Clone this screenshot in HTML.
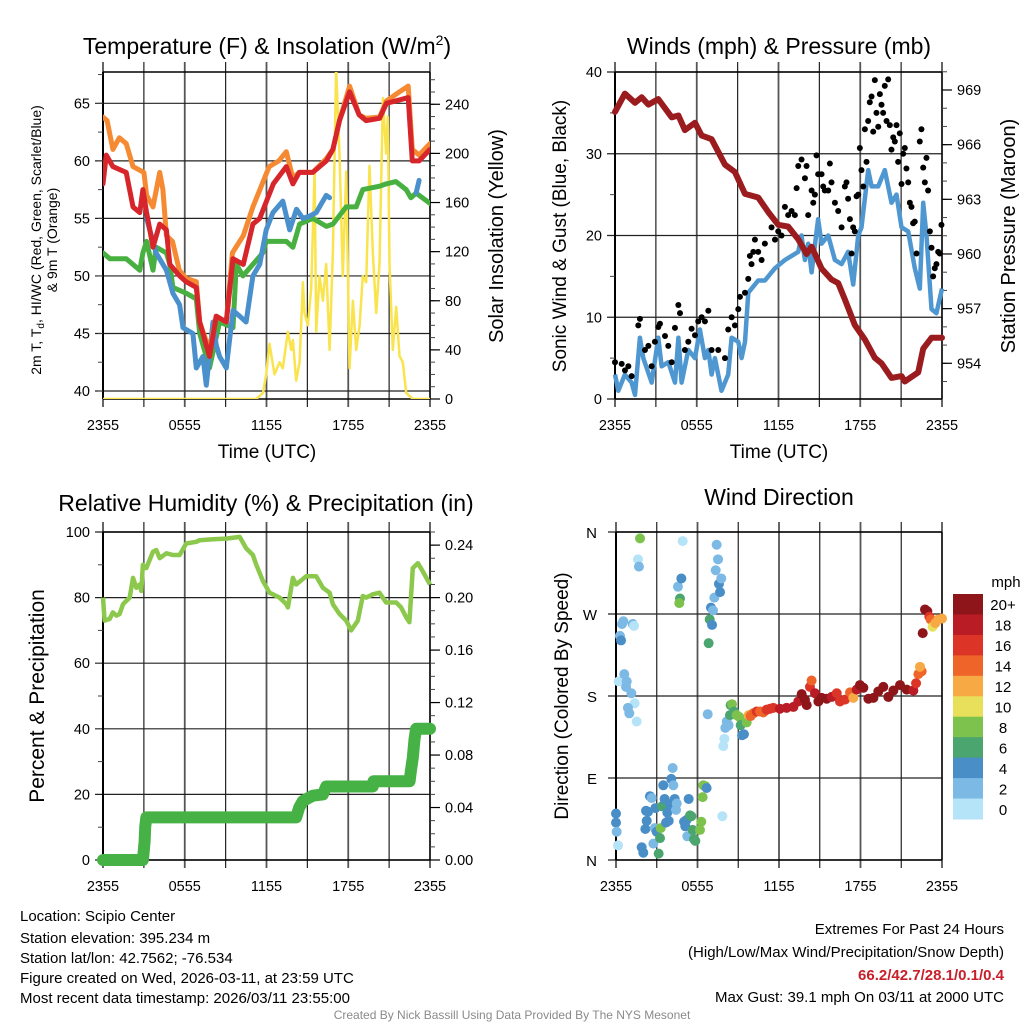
<!DOCTYPE html>
<html><head><meta charset="utf-8"><style>
html,body{margin:0;padding:0;background:#fff}
svg{display:block;font-family:"Liberation Sans",Arial,sans-serif}
</style></head><body>
<svg id="fig" width="1024" height="1024" viewBox="0 0 1024 1024" xmlns="http://www.w3.org/2000/svg">
<rect width="1024" height="1024" fill="#fff"/>
<g id="g1"></g>
<g id="g2"></g>
<g id="g3"></g>
<g id="g4"></g>
<text x="267" y="54" font-size="23" text-anchor="middle">Temperature (F) &amp; Insolation (W/m<tspan font-size="14" dy="-9">2</tspan><tspan dy="9">)</tspan></text>
<text x="779" y="54" font-size="23" text-anchor="middle">Winds (mph) &amp; Pressure (mb)</text>
<text x="266" y="511" font-size="23" text-anchor="middle">Relative Humidity (%) &amp; Precipitation (in)</text>
<text x="779" y="505" font-size="23" text-anchor="middle">Wind Direction</text>
<text x="267" y="458" font-size="19" text-anchor="middle">Time (UTC)</text>
<text x="779" y="458" font-size="19" text-anchor="middle">Time (UTC)</text>
<text transform="translate(41,240) rotate(-90)" font-size="14" text-anchor="middle">2m T, T<tspan font-size="10" dy="3">d</tspan><tspan dy="-3">, HI/WC (Red, Green, Scarlet/Blue)</tspan></text>
<text transform="translate(57,240) rotate(-90)" font-size="14" text-anchor="middle">&amp; 9m T (Orange)</text>
<text transform="translate(503,236) rotate(-90)" font-size="20" text-anchor="middle">Solar Insolation (Yellow)</text>
<text transform="translate(566,236) rotate(-90)" font-size="19" text-anchor="middle">Sonic Wind &amp; Gust (Blue, Black)</text>
<text transform="translate(1015,236) rotate(-90)" font-size="20" text-anchor="middle">Station Pressure (Maroon)</text>
<text transform="translate(44,696) rotate(-90)" font-size="21" text-anchor="middle">Percent &amp; Precipitation</text>
<text transform="translate(568,696) rotate(-90)" font-size="19" text-anchor="middle">Direction (Colored By Speed)</text>
<g font-size="15">
<text x="20" y="921">Location: Scipio Center</text>
<text x="20" y="943">Station elevation: 395.234 m</text>
<text x="20" y="963">Station lat/lon: 42.7562; -76.534</text>
<text x="20" y="983">Figure created on Wed, 2026-03-11, at 23:59 UTC</text>
<text x="20" y="1003">Most recent data timestamp: 2026/03/11 23:55:00</text>
</g>
<g font-size="15" text-anchor="end">
<text x="1004" y="934">Extremes For Past 24 Hours</text>
<text x="1004" y="957">(High/Low/Max Wind/Precipitation/Snow Depth)</text>
<text x="1004" y="980" fill="#c8202a" font-weight="bold">66.2/42.7/28.1/0.1/0.4</text>
<text x="1004" y="1002">Max Gust: 39.1 mph On 03/11 at 2000 UTC</text>
</g>
<text x="512" y="1019" font-size="12" fill="#8a8a8a" text-anchor="middle">Created By Nick Bassill Using Data Provided By The NYS Mesonet</text>
</svg>
<script>
// ---------- DATA (time in hours after 2355 UTC) ----------
const xTickLabels=["2355","0555","1155","1755","2355"];
const tempTicks=[40,45,50,55,60,65];
const solarTicks=[0,40,80,120,160,200,240];
const windTicks=[0,10,20,30,40];
const presTicks=[954,957,960,963,966,969];
const rhTicks=[0,20,40,60,80,100];
const precipTicks=["0.00","0.04","0.08","0.12","0.16","0.20","0.24"];
const dirTickLabels=["N","E","S","W","N"];
const speedBinLabels=["0","2","4","6","8","10","12","14","16","18","20+"];

const redT=[0,.24,.73,1.7,2.2,2.7,2.93,3.2,3.67,4.16,4.65,4.9,5.62,6.1,6.85,7.1,7.82,8.31,9.05,9.54,10.3,11,11.5,12.5,13.45,13.94,14.4,15.4,16.4,16.87,17.36,18.1,18.8,19.3,20.3,20.8,21.76,22.4,22.7,23.2,24];
const redV=[58,60.5,59.5,59,56,55.5,57.5,55.5,52.5,54.5,54,51,50,49.5,49,46,43,46.5,46,51.5,51,54.5,55,58,59.5,58,59,59,60,61,63.5,66,64,63.5,63.7,65,65.3,65.5,60,60,61];
const orangeT=[0,.3,.73,1.2,1.7,2.2,3,3.2,3.67,4.16,4.4,4.65,5.1,5.6,6.1,6.85,7.1,7.82,8.31,9.05,9.5,10.3,11,12.2,12.9,13.45,13.94,14.4,15.4,16.4,16.87,17.36,18.1,18.8,19.3,20.3,20.8,21.76,22.4,22.7,23.2,24];
const orangeV=[63.8,63.5,61,62,61.5,59.5,59,57,56,59,57.5,53.5,53,50.5,49.8,49.5,46,43.5,46.5,46,52,53.5,56,59.5,60,60.8,58.5,59,59,60.2,61,63.5,66.5,64,63.7,63.8,65.2,66,66.5,61,60.5,61.5];
const greenT=[0,.5,1.7,2.2,2.7,2.93,3.2,3.67,3.9,4.65,4.9,5.13,6.1,6.85,7.1,7.82,8.56,9.54,9.78,10.27,11,11.73,11.98,13.45,13.94,14.43,15.4,16.4,16.87,17.85,18.58,19.07,20.3,20.78,21.5,22.25,22.6,22.98,24];
const greenV=[52,51.5,51.5,51,50.5,52,53,50.5,52.5,52,51,49,48.5,48,45,42,46,45.5,51,50,51,52,53,53,52.5,54.5,55,54.3,54.5,56,56,57.5,57.8,58,58.2,57.5,56.8,57.2,56.3];
const blueT=[3.2,3.67,3.9,4.65,5.13,5.62,5.87,6.6,6.85,7.33,7.58,8.07,8.31,8.56,9.05,9.54,10.03,10.5,11,11.5,11.98,12.47,13.2,13.7,14.2,14.67,15.16,15.65,16.38,16.63];
const blueV=[55,53,52,50.5,48.5,47.5,45.5,45,42,43,40.5,46,44,43,42,47,46.5,46,50,51,54,55.5,56.5,54,55.8,55,55.2,55.5,57,56.8];
const blue2T=[22.98,23.2];
const blue2V=[57.2,58.3];
const solarT=[0,11.25,11.74,11.98,12.22,12.59,12.96,13.2,13.57,13.81,13.94,14.18,14.43,14.67,14.79,15.04,15.28,15.53,15.65,15.89,16.14,16.38,16.63,16.87,17.11,17.36,17.6,17.85,18.09,18.34,18.58,18.83,19.07,19.32,19.56,19.8,20.05,20.29,20.54,20.78,20.9,21.03,21.27,21.52,21.76,22,22.25,22.74,24];
const solarV=[0,0,5,20,45,20,30,25,55,40,48,15,30,95,70,60,90,185,55,100,80,110,40,120,270,200,100,185,25,80,40,60,100,95,190,120,70,110,245,200,230,110,40,75,35,30,5,0,0];

const windT=[0,.24,.73,1.22,1.47,1.83,2.08,2.69,3.18,3.42,3.91,4.4,4.65,4.89,5.38,5.87,6.23,6.6,6.85,7.09,7.33,7.82,8.31,8.56,9.05,9.29,9.54,9.78,10.51,11,11.74,12.47,12.96,13.45,13.69,13.94,14.18,14.43,14.91,15.16,15.65,16.14,16.63,17.11,17.48,17.85,18.09,18.58,18.83,19.32,19.8,20.29,20.66,21.03,21.52,22,22.37,22.62,22.86,23.23,23.59,24];
const windV=[3,1,3,2,.5,7.5,5,2,7.5,4,4.5,2,7.5,2,6,5,8.5,5,6,3,5,1,3,7.5,7,5,7,13,14.5,14.5,16,17,17.5,18,20,17,19,15.5,22,19,20,17,16.5,18,14,20,21,28,26,26,28,24,25,21,20.5,16,13.5,24,20,11,10.5,13.5];
const gustT=[0,.49,.73,.98,1.22,1.71,1.83,2.2,2.45,2.69,2.93,3.18,3.3,3.67,3.91,4.16,4.4,4.65,4.77,5.13,5.38,5.62,5.87,6.11,6.36,6.6,6.85,7.09,7.58,8.07,8.31,8.56,8.8,9.05,9.17,9.54,9.78,9.9,10.02,10.15,10.27,10.51,10.76,11,11.49,11.74,11.98,12.22,12.47,12.71,12.96,13.2,13.33,13.45,13.69,13.94,14.06,14.18,14.43,14.55,14.67,14.79,14.91,15.16,15.28,15.4,15.65,15.77,15.89,16.14,16.38,16.63,16.87,16.99,17.11,17.24,17.36,17.48,17.6,17.73,17.85,17.97,18.09,18.22,18.34,18.46,18.58,18.7,18.83,18.95,19.07,19.19,19.32,19.44,19.56,19.68,19.8,19.93,20.05,20.17,20.29,20.42,20.54,20.66,20.78,20.9,21.03,21.15,21.27,21.39,21.52,21.64,21.76,21.88,22,22.13,22.37,22.49,22.62,22.74,22.86,22.98,23.11,23.23,23.35,23.47,23.59,23.72,23.84,23.96];
const gustV=[4.5,4.3,3.5,4,2.8,9,9.8,6,6.5,4,7,8.8,9.2,7.7,6.5,4.5,8.7,11.5,10.5,6,7,8.6,7.8,9.5,10,9.5,10.8,6,6,5,8.5,10,9,11,12.5,13,14.7,17.5,16.5,18,19.5,18,17,19,21,19.5,20.5,20,23.5,22.5,23,22.5,25.8,28.5,29.3,27,28.5,22.5,25.5,24,25,29.8,27.5,27.5,26,25.5,25.5,28.8,26.5,24,23,21,26,26.5,24.5,22,17.8,21,20.5,24.8,25,30.7,28,26,33,29,34,36.3,37,32.7,39,35,33.3,37.3,36,35,38.3,34,39.1,33.5,30.5,32,31.5,33.5,29,32.5,26.3,30,30.7,28.2,26.5,24,23.5,21.5,21.7,17.8,31.5,33,28.3,26.5,29.5,25.5,20.5,18.5,15,16,16.5,18,17.8,21.3];
const presT=[0,.73,1.47,1.96,2.45,3.18,4.16,4.65,5.13,5.87,6.36,7.09,8.07,8.8,9.54,10.51,11.25,11.98,12.71,13.45,14.06,14.43,15.16,15.89,16.38,16.87,17.6,18.34,19.07,19.56,20.29,21.03,21.27,22.25,22.62,23.23,24];
const presV=[967.8,968.8,968.3,968.6,968.2,968.5,967.5,967.6,966.8,967.2,966.5,966.3,964.9,964.5,963.3,963.1,962.3,961.6,961.5,960.8,960,960.4,959.2,958.6,958.4,957.5,956.1,955.3,954.3,954,953.2,953.3,953,953.5,954.8,955.4,955.4];

const rhT=[0,.12,.49,.73,.98,1.22,1.47,1.71,1.96,2.2,2.45,2.69,2.81,2.93,3.18,3.67,3.91,4.16,4.65,5.13,5.62,6.11,6.85,7.09,8.07,9.05,10.03,10.51,11,11.25,11.74,12.22,12.96,13.45,13.57,13.94,14.18,14.91,15.65,16.14,16.63,16.87,17.36,17.85,18.22,18.7,19.07,19.32,19.8,20.29,20.78,21.52,21.88,22.25,22.49,22.74,23.11,23.47,24];
const rhV=[80,73,73.5,75.5,74.5,75,78,79,80,86,83,84,82,90,89,94,94.5,92,93.5,93,93,96.5,97,97.5,97.8,98,98.5,95,93,90,85,81.5,80,78,77,86,84,86.5,86.5,83,81.5,78,75,73,70,73,80.5,80,81,81.5,78.5,78.5,77,74,72.5,89,90.5,88,84];
const precipT=[0,2.93,3.0,3.05,3.1,3.18,14.18,14.4,14.67,15.4,16.14,16.38,19.8,19.85,22.5,22.6,22.74,22.86,22.98,24];
const precipV=[0,0,.008,.014,.025,.0325,.0325,.04,.045,.049,.05,.056,.056,.06,.06,.068,.078,.092,.1,.1];

const dirT=[0,0,.05,.15,.29,.37,.44,.54,1.23,1.33,.2,.61,.79,.74,1.13,1.37,.88,.98,1.52,1.62,1.69,1.77,1.89,2.01,2.16,2.26,2.21,2.36,2.5,2.63,2.75,2.85,2.9,2.99,3.14,3.24,3.29,3.39,3.48,3.58,3.68,3.78,3.88,3.98,4.07,4.17,4.22,4.32,4.42,4.47,4.56,4.81,4.71,4.66,4.91,5.01,5.1,5.2,5.25,5.35,5.45,5.55,5.64,5.74,5.84,6.18,6.28,6.38,6.43,6.58,6.67,6.75,6.82,6.9,6.99,7.07,7.14,7.24,7.34,7.41,7.51,7.58,7.66,7.75,7.83,7.9,7.98,8.05,8.15,8.29,8.44,8.54,8.39,8.69,8.88,9.08,9.18,9.28,9.42,9.62,9.77,9.91,10.11,10.36,10.6,10.85,11.09,11.34,11.58,12.07,12.56,13.06,13.42,13.67,13.91,14.04,14.28,14.4,14.65,14.9,15.14,15.51,15.88,16.25,16.49,16.86,17.23,17.47,17.72,17.96,18.21,18.58,18.95,19.31,19.68,20.05,20.42,20.91,21.4,21.89,22.09,22.26,22.5,22.38,22.58,22.75,22.92,23.07,23.17,23.31,23.51,23.73,24];
const dirV=[51,41,31,16,246,241,259,262,259,257,196,204,196,190,183,172,167,161,152,330,322,353,14,8,34,43,54,53,70,68,18,35,57,31,7,24,35,59,82,67,41,52,43,61,89,101,82,67,55,62,300,309,287,282,350,42,37,44,26,67,49,48,33,23,21,33,42,69,82,81,79,160,238,264,277,258,274,288,318,346,330,303,294,309,48,125,133,145,152,148,170,171,159,163,159,157,148,137,138,151,159,158,161,163,163,162,165,166,167,166,167,168,174,182,176,170,190,197,183,174,178,177,179,183,174,176,184,178,187,192,189,177,178,185,190,179,186,192,187,186,194,204,207,212,249,275,273,267,264,256,260,264,265];
const dirSpd=[4,4,3,1,2,4,2,2,2,1,1,2,2,2,2,1,2,2,1,1,2,8,4,4,4,4,4,4,4,3,3,2,4,4,6,6,8,6,4,4,4,4,4,4,4,3,3,4,3,3,3,4,6,8,1,4,4,4,3,4,6,6,6,6,6,8,8,8,8,8,4,3,6,6,4,4,3,3,3,3,3,4,4,3,1,1,1,2,3,2,6,8,6,6,8,8,6,4,4,8,12,14,14,16,14,14,16,16,16,18,18,18,18,20,20,20,16,14,18,20,20,20,18,16,16,16,14,12,18,20,20,20,20,20,20,20,20,20,20,18,16,14,14,12,20,20,20,16,14,10,12,12,12];

const binColors=["#b5e3f8","#7cb9e4","#4a8ec7","#4aa56f","#7dc24c","#e8e05a","#f7a944","#ef6429","#dc3427","#b91c25","#8e1519"];

// ---------- DRAW ----------
const NS="http://www.w3.org/2000/svg";
function mk(parent,tag,attrs){const e=document.createElementNS(NS,tag);for(const k in attrs)e.setAttribute(k,attrs[k]);parent.appendChild(e);return e;}
function linePath(ts,vs,xf,yf){let d="";for(let i=0;i<ts.length;i++){d+=(i?"L":"M")+xf(ts[i]).toFixed(1)+","+yf(vs[i]).toFixed(1);}return d;}

function frame(g,x0,x1,yT,yB,hVals,yf,name){
  const xf=h=>x0+h/24*(x1-x0);
  for(let i=0;i<=8;i++){const x=xf(i*3);
    const gl=mk(g,"line",{x1:x,x2:x,y1:yT-10,y2:yB+8,stroke:i%2?"#222":"#555","stroke-width":i%2?1.2:1.8});
    
    }
  hVals.forEach(v=>{const y=yf(v);
    const hl=mk(g,"line",{x1:x0-8,x2:x1,y1:y,y2:y,stroke:"#222","stroke-width":1.2});
    
    });
  mk(g,"line",{x1:x0,x2:x0,y1:yT,y2:yB,stroke:"#000","stroke-width":2});
  mk(g,"line",{x1:x0,x2:x1,y1:yT,y2:yT,stroke:"#000","stroke-width":1.5});
  mk(g,"line",{x1:x0,x2:x1,y1:yB,y2:yB,stroke:"#000","stroke-width":1.5});
  mk(g,"line",{x1:x1,x2:x1,y1:yT,y2:yB,stroke:"#000","stroke-width":1.2});
  xTickLabels.forEach((t,i)=>{const tx=mk(g,"text",{x:xf(i*6),y:yB+31,"font-size":14.5,"text-anchor":"middle"});tx.textContent=t;
    
    });
  return xf;
}
function leftLabels(g,x0,vals,yf,fmt){vals.forEach(v=>{const t=mk(g,"text",{x:x0-13,y:yf(v)+5,"font-size":14.5,"text-anchor":"end"});t.textContent=fmt?fmt(v):v;
  
  });}
function rightAxis(g,x1,labels,yfs,minor,yT,yB){
  minor.forEach(y=>{if(y>=yT-1&&y<=yB+1)mk(g,"line",{x1:x1,x2:x1+5,y1:y,y2:y,stroke:"#444","stroke-width":1});});
  labels.forEach((l,i)=>{const y=yfs[i];mk(g,"line",{x1:x1,x2:x1+10,y1:y,y2:y,stroke:"#000","stroke-width":1.2});
    const t=mk(g,"text",{x:x1+15,y:y+5,"font-size":14.5});t.textContent=l;
    
    });
}
function leftMinor(g,x0,ys){ys.forEach(y=>mk(g,"line",{x1:x0-5,x2:x0,y1:y,y2:y,stroke:"#444","stroke-width":1}));}

// Panel 1
(function(){
  const g=document.getElementById("g1");
  const yL=v=>391-(v-40)*11.507, yR=v=>399-v*1.228;
  const xf=frame(g,103,430,72,399,tempTicks,yL);
  leftLabels(g,103,tempTicks,yL);
  const mn=[];for(let v=40;v<=67.5;v+=2.5)mn.push(yL(v));leftMinor(g,103,mn);
  const rm=[];for(let v=0;v<=260;v+=10)rm.push(yR(v));
  rightAxis(g,430,solarTicks,solarTicks.map(yR),rm,72,399);
  const cp=mk(g,"clipPath",{id:"c1"});mk(cp,"rect",{x:103,y:72,width:327,height:327});
  const pg=mk(g,"g",{"clip-path":"url(#c1)"});
  const s=(ts,vs,col,w,f,n)=>{const p=mk(pg,"path",{d:linePath(ts,vs,xf,f),fill:"none",stroke:col,"stroke-width":w,"stroke-linejoin":"round","stroke-linecap":"round"});
    
    };
  s(solarT,solarV,"#f9e44d",2.5,yR,'solar-line');
  s(greenT,greenV,"#47b040",5,yL,'dewpoint-line');
  s(blueT,blueV,"#4a90cc",5,yL,'windchill-line');
  s(blue2T,blue2V,"#4a90cc",5,yL,'windchill-line-2');
  s(orangeT,orangeV,"#f58a33",5,yL,'temp-9m-line');
  s(redT,redV,"#d7262b",5,yL,'temp-2m-line');
})();
// Panel 2
(function(){
  const g=document.getElementById("g2");
  const yL=v=>399-v*8.175, yP=v=>90+(969-v)*18.22;
  const xf=frame(g,615,942,72,399,windTicks,yL);
  leftLabels(g,615,windTicks,yL);
  leftMinor(g,615,[5,15,25,35].map(yL));
  const rm=[];for(let v=953;v<=970;v++)rm.push(yP(v));
  rightAxis(g,942,presTicks,presTicks.map(yP),rm,72,399);
  const cp=mk(g,"clipPath",{id:"c2"});mk(cp,"rect",{x:612,y:69,width:333,height:333});
  const pg=mk(g,"g",{"clip-path":"url(#c2)"});
  const w=mk(pg,"path",{d:linePath(windT,windV,xf,yL),fill:"none",stroke:"#4f97d1","stroke-width":4.5,"stroke-linejoin":"round"});
  
  
  gustT.forEach((t,i)=>{const c=mk(pg,"circle",{cx:xf(t),cy:yL(gustV[i]),r:3,fill:"#000"});
    
    });
  const p=mk(pg,"path",{d:linePath(presT,presV,xf,yP),fill:"none",stroke:"#9b1c1f","stroke-width":6,"stroke-linejoin":"round","stroke-linecap":"round"});
  
  
})();
// Panel 3
(function(){
  const g=document.getElementById("g3");
  const yL=v=>860-v*3.28, yR=v=>860-v*1312;
  const xf=frame(g,103,430,532,860,rhTicks,yL);
  leftLabels(g,103,rhTicks,yL);
  leftMinor(g,103,[10,30,50,70,90].map(yL));
  const rm=[];for(let v=0;v<=0.25001;v+=0.01)rm.push(yR(v));
  rightAxis(g,430,precipTicks,precipTicks.map(v=>yR(parseFloat(v))),rm,532,860);
  const r=mk(g,"path",{d:linePath(rhT,rhV,xf,yL),fill:"none",stroke:"#8cc84b","stroke-width":4.5,"stroke-linejoin":"round"});
  
  
  const p=mk(g,"path",{d:linePath(precipT,precipV,xf,yR),fill:"none",stroke:"#46b245","stroke-width":12,"stroke-linejoin":"round","stroke-linecap":"round"});
  
  
})();
// Panel 4
(function(){
  const g=document.getElementById("g4");
  const yD=v=>860-v/360*328;
  const dv=[0,90,180,270,360];
  const xf=frame(g,616,942,532,860,dv,yD);
  dirTickLabels.forEach((l,i)=>{const t=mk(g,"text",{x:597,y:yD(dv[i])+6,"font-size":15,"text-anchor":"end"});t.textContent=l;
    
    });
  dirT.forEach((t,i)=>{const b=Math.min(10,Math.floor(dirSpd[i]/2));
    const c=mk(g,"circle",{cx:xf(t),cy:yD(dirV[i]),r:5,fill:binColors[b]});
    
    });
  const cb=mk(g,"g",{});
  
  
  const bh=225/11;
  for(let i=0;i<11;i++){const k=10-i;
    mk(cb,"rect",{x:953,y:594+i*bh,width:30,height:bh+0.5,fill:binColors[k]});
    const t=mk(cb,"text",{x:1003,y:594+i*bh+bh/2+6,"font-size":15,"text-anchor":"middle"});t.textContent=speedBinLabels[k];
    
    }
  const u=mk(cb,"text",{x:1006,y:587,"font-size":15,"text-anchor":"middle"});u.textContent="mph";
  
  
})();
</script>
</body></html>
